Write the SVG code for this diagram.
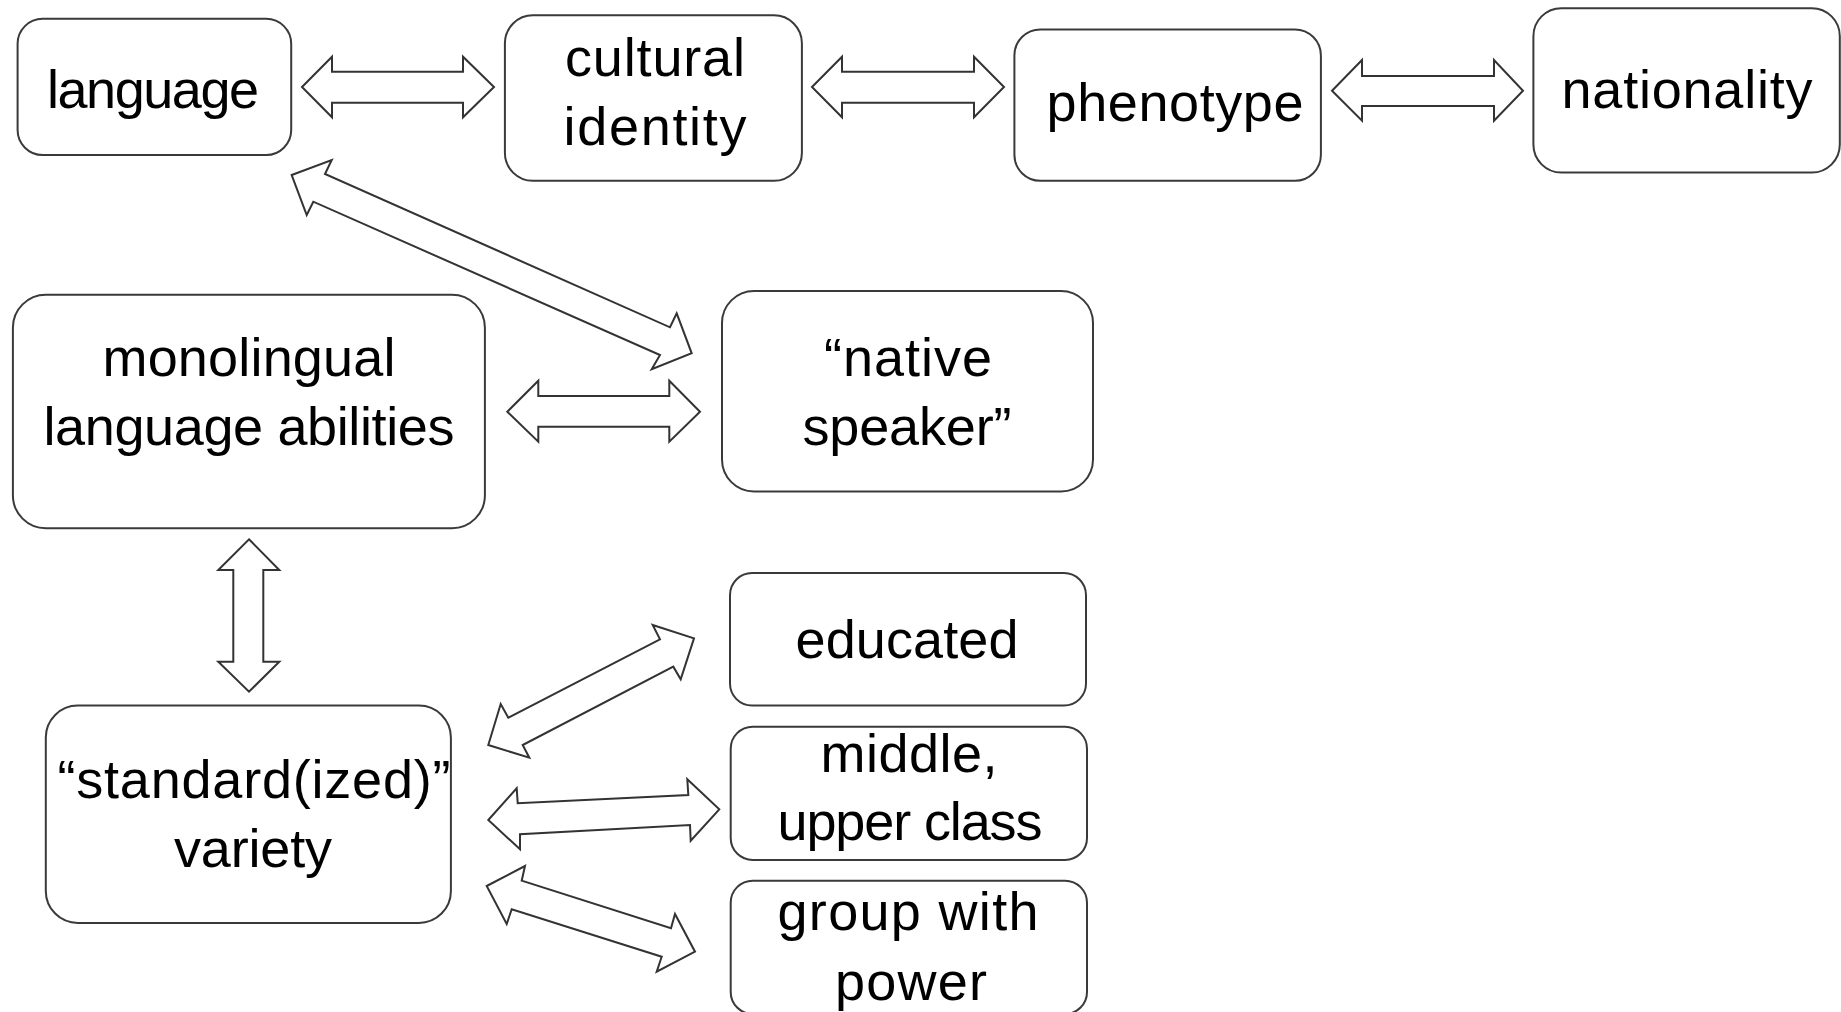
<svg xmlns="http://www.w3.org/2000/svg" width="1841" height="1012" viewBox="0 0 1841 1012">
<style>
.box{fill:#ffffff;stroke:#3a3a3a;stroke-width:2}
.arr{fill:#ffffff;stroke:#333333;stroke-width:2;stroke-linejoin:miter}
.t{font-family:"Liberation Sans",Arial,sans-serif;font-size:54px;fill:#000000;text-anchor:middle}
</style>
<rect width="1841" height="1012" fill="#ffffff"/>
<g id="connectors">
<polygon class="arr" points="302,87 332,56.7 332,71.7 463,71.7 463,56.7 494,87 463,117.3 463,102.7 332,102.7 332,117.3"/>
<polygon class="arr" points="812,87 842,56.7 842,71.7 974,71.7 974,56.7 1004,87 974,117.3 974,102.7 842,102.7 842,117.3"/>
<polygon class="arr" points="1332,90.7 1362,60 1362,76 1494,76 1494,60 1523,90.7 1494,120.7 1494,106 1362,106 1362,120.7"/>
<polygon class="arr" points="291.7,175 331.7,160 325,174 670,327.3 676.7,313.3 691.7,353.3 651.7,369.3 660,355 313.3,201.7 306.7,215"/>
<polygon class="arr" points="507.3,411.7 538.3,380.7 538.3,396 669.3,396 669.3,380.7 700,411.7 669.3,441.7 669.3,426.7 538.3,426.7 538.3,441.7"/>
<polygon class="arr" points="249,539.3 279.3,570 263.3,570 263.3,661.7 279.3,661.7 249,691.7 218.3,661.7 233.3,661.7 233.3,570 218.3,570"/>
<polygon class="arr" points="488.3,745 500.7,704 508.3,717.7 660,639.3 652.7,625 694,638.3 680.7,679.3 673.3,666.7 522.7,745 529.3,757.7"/>
<polygon class="arr" points="488.3,820 516.7,788.3 517.7,803.3 688.3,795 687.3,779.3 719.3,809.3 690.7,840.7 690,825 520,834.3 520,849.3"/>
<polygon class="arr" points="486.7,886 525,866 521.7,880.7 671,928.3 675,914 695,951.7 656.7,971.7 661.7,956.7 511.7,909.3 506.7,924"/>
</g>
<g id="n-language">
<rect class="box" x="17.6" y="18.8" width="273.6" height="136.2" rx="25"/>
<text class="t" x="153" y="108" textLength="212">language</text>
</g>
<g id="n-cultural-identity">
<rect class="box" x="504.9" y="15.3" width="297" height="165.5" rx="28"/>
<text class="t" x="655" y="76" textLength="180">cultural</text>
<text class="t" x="655" y="145" textLength="183">identity</text>
</g>
<g id="n-phenotype">
<rect class="box" x="1014.4" y="29.4" width="306.5" height="151.4" rx="26"/>
<text class="t" x="1175" y="121" textLength="257">phenotype</text>
</g>
<g id="n-nationality">
<rect class="box" x="1533.4" y="8.2" width="306.4" height="164.4" rx="28"/>
<text class="t" x="1687" y="108" textLength="251">nationality</text>
</g>
<g id="n-monolingual">
<rect class="box" x="12.9" y="294.7" width="472" height="233.6" rx="33"/>
<text class="t" x="249" y="376" textLength="293">monolingual</text>
<text class="t" x="249" y="445" textLength="411">language abilities</text>
</g>
<g id="n-native-speaker">
<rect class="box" x="722" y="291" width="371" height="200.5" rx="32"/>
<text class="t" x="908" y="376" textLength="168">“native</text>
<text class="t" x="907" y="445" textLength="209">speaker”</text>
</g>
<g id="n-standard-variety">
<rect class="box" x="45.8" y="705.6" width="405.1" height="217.3" rx="32"/>
<text class="t" x="254" y="798" textLength="393">“standard(ized)”</text>
<text class="t" x="253" y="867" textLength="158">variety</text>
</g>
<g id="n-educated">
<rect class="box" x="730" y="573" width="356" height="132.6" rx="22"/>
<text class="t" x="907" y="658" textLength="223">educated</text>
</g>
<g id="n-middle-upper-class">
<rect class="box" x="730.7" y="726.7" width="356.3" height="133.3" rx="22"/>
<text class="t" x="909" y="772" textLength="177">middle,</text>
<text class="t" x="910" y="840" textLength="265">upper class</text>
</g>
<g id="n-group-with-power">
<rect class="box" x="730.7" y="880.7" width="356.3" height="133.3" rx="22"/>
<text class="t" x="908" y="930" textLength="261">group with</text>
<text class="t" x="911" y="1000" textLength="152">power</text>
</g>
</svg>
